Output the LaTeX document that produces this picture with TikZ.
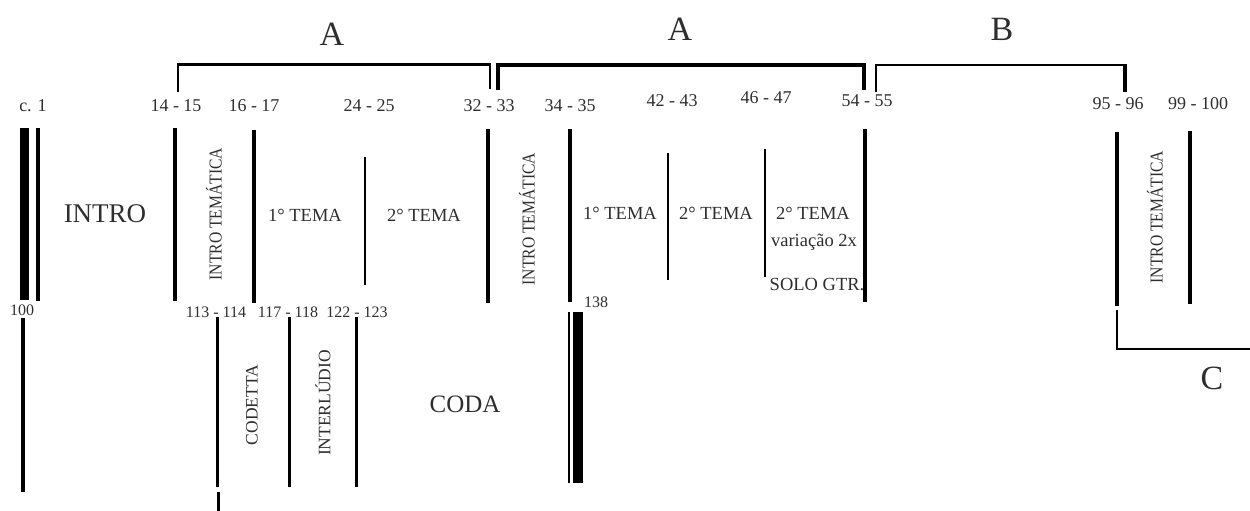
\documentclass[tikz,border=0pt]{standalone}
\usepackage{fontspec}
\setmainfont{Liberation Serif}
\newfontfamily\condfont[FakeStretch=0.86]{Liberation Serif}
\definecolor{txt}{gray}{0.18}
\begin{document}
\begin{tikzpicture}[x=1pt,y=-1pt,
  every node/.style={inner sep=0pt,text=txt},
  barline/.style={line width=4pt},
  thinline/.style={line width=1.3pt},
  brk/.style={line width=2.5pt},
  brkthick/.style={line width=3.5pt},
  num/.style={font=\fontsize{18}{20}\selectfont},
  numsm/.style={font=\fontsize{16}{18}\selectfont},
  lab/.style={font=\fontsize{18.5}{22}\selectfont},
  biglab/.style={font=\fontsize{27}{30}\selectfont},
  sect/.style={font=\fontsize{34}{36}\selectfont},
  rot/.style={rotate=90,font=\condfont\fontsize{18.2}{20}\selectfont},
  rotb/.style={rotate=90,font=\fontsize{17.5}{20}\selectfont}]
\path[use as bounding box] (0,0) rectangle (1250,511);

% section brackets
\node[sect] (lA1) at (332,34) {A};
\node[sect] (lA2) at (680,29) {A};
\node[sect] (lB) at (1002,29) {B};
\node[sect] (lC) at (1212,378) {C};
\draw[brk] (178,92) -- (178,64.5) -- (490,64.5) -- (490,89);
\draw[brkthick] (498,90) -- (498,65) -- (864,65) -- (864,90);
\draw[brk] (876,92) -- (876,65) -- (1125,65);
\draw[brkthick] (1125,64) -- (1125,92);
\draw[brk] (1117,310) -- (1117,349) -- (1250,349);

% measure numbers
\node[num] (m1) at (33,106) {c. 1};
\node[num] (m14) at (176,106) {14 - 15};
\node[num] (m16) at (254,106) {16 - 17};
\node[num] (m24) at (369,106) {24 - 25};
\node[num] (m32) at (489,106) {32 - 33};
\node[num] (m34) at (570,106) {34 - 35};
\node[num] (m42) at (672,101) {42 - 43};
\node[num] (m46) at (766,98) {46 - 47};
\node[num] (m54) at (867,101) {54 - 55};
\node[num] (m95) at (1118,104) {95 - 96};
\node[num] (m99) at (1198,104) {99 - 100};

% top bar lines
\fill (20,128) rectangle (29,300);
\draw[barline] (38,128) -- (38,301);
\draw[barline] (174.5,128) -- (174.5,301);
\draw[barline] (254,130) -- (254,303);
\draw[thinline] (365,157) -- (365,285);
\draw[barline] (488,129) -- (488,303);
\draw[barline] (570,129) -- (570,302);
\draw[thinline] (668,153) -- (668,280);
\draw[thinline] (765,149) -- (765,277);
\draw[barline] (865,129) -- (865,302);
\draw[barline] (1116.5,132) -- (1116.5,306);
\draw[barline] (1190,131) -- (1190,304);

% top texts
\node[biglab] (intro) at (105,214) {INTRO};
\node[rot] (it1) at (214,214) {INTRO TEMÁTICA};
\node[lab] (t1a) at (305,215) {1° TEMA};
\node[lab] (t2a) at (424,215) {2° TEMA};
\node[rot] (it2) at (527,219) {INTRO TEMÁTICA};
\node[lab] (t1b) at (620,213) {1° TEMA};
\node[lab] (t2b) at (716,213) {2° TEMA};
\node[lab] (t2c) at (813,213) {2° TEMA};
\node[lab] (var) at (814,242) {variação 2x};
\node[lab] (solo) at (817,285) {SOLO GTR.};
\node[rot] (it3) at (1155,217) {INTRO TEMÁTICA};

% bottom part
\node[numsm] (m100) at (22,310) {100};
\draw[barline] (22.5,318) -- (22.5,492);
\node[numsm] (m113) at (216,312) {113 - 114};
\draw[line width=3pt] (217,317) -- (217,487);
\draw[line width=3pt] (218,492) -- (218,511);
\node[numsm] (m117) at (288,312) {117 - 118};
\draw[line width=3pt] (289,317) -- (289,487);
\node[numsm] (m122) at (357,312) {122 - 123};
\draw[line width=3pt] (356,317) -- (356,487);
\node[rotb] (codetta) at (252,405) {CODETTA};
\node[rotb] (inter) at (323,403) {INTERLÚDIO};
\node[font=\fontsize{25}{28}\selectfont] (coda) at (465,404) {CODA};
\node[numsm] (m138) at (596,302) {138};
\draw[line width=2.2pt] (569,312) -- (569,483);
\fill (573.3,312) rectangle (583,483);
\end{tikzpicture}
\end{document}
